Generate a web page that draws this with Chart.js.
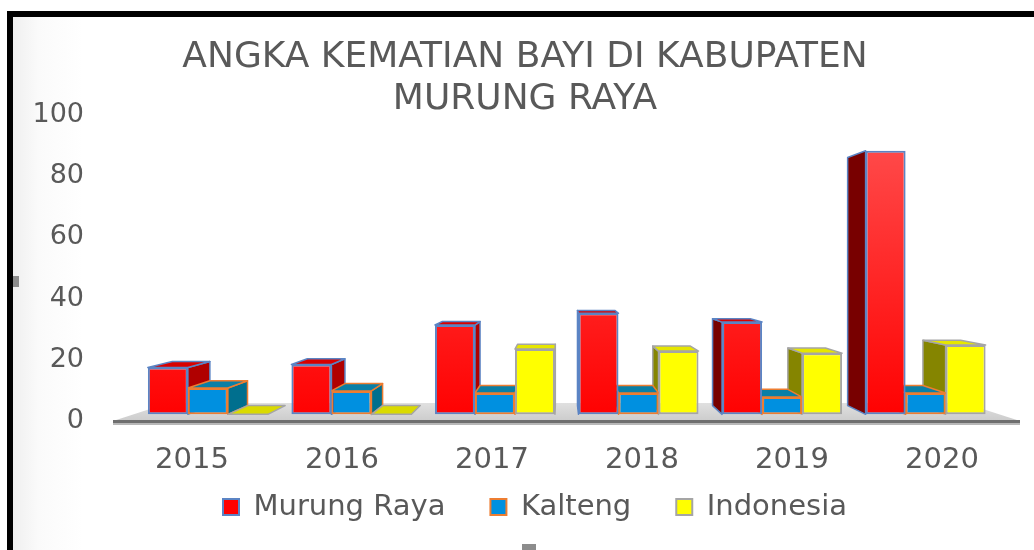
<!DOCTYPE html>
<html>
<head>
<meta charset="utf-8">
<script src="https://cdn.jsdelivr.net/npm/chart.js@4.4.1/dist/chart.umd.min.js"></script>
<style>
html,body{margin:0;padding:0;width:1034px;height:550px;overflow:hidden;background:#fff;}
#frame{position:absolute;left:7px;top:11px;width:1021px;height:539px;border-left:6px solid #000;border-top:6px solid #000;
  background:linear-gradient(90deg,#efefef 0px,#fafafa 25px,#ffffff 70px,#ffffff 100%);}
#c{position:absolute;left:0;top:0;}
.handle{position:absolute;background:#8c8c8c;}
</style>
</head>
<body>
<div id="frame"><canvas id="c" width="1021" height="533"></canvas></div>
<div class="handle" style="left:13px;top:276px;width:6px;height:11px;"></div>
<div class="handle" style="left:522px;top:544px;width:14px;height:6px;"></div>
<script>
// ---------- data ----------
const years = ['2015', '2016', '2017', '2018', '2019', '2020'];
const murungRaya = [16, 17, 30.5, 34.5, 31.5, 90];
const kalteng = [9, 8, 7.3, 7.3, 5.9, 7.3];
const indonesia = [0, 0, 22.3, 21.6, 20.9, 23.7];
const seriesNames = ['Murung Raya', 'Kalteng', 'Indonesia'];
const yTickValues = [0, 20, 40, 60, 80, 100];
const chartTitle = ['ANGKA KEMATIAN BAYI DI KABUPATEN', 'MURUNG RAYA'];

// ---------- style / 3D view ----------
const AREA = {left: 104, right: 1004, top: 98, bottom: 404}; // planned plot area (canvas px)
const VP = {x: 548, y: 249};     // vanishing point
const FRONT = 0.957;             // bar front plane relative to axis plane
const DEPTH = 0.941;             // bar back face relative to front
const FLOOR_BACK = 0.884;
const LEGEND_POS = {top: 430.5, shiftX: 10};
const STYLE3D = [
  {border: '#5B84C4', sideR: '#B00000', sideL: '#780000', top: '#D80000', plate: '#D80000'},
  {border: '#ED7D31', sideR: '#006F8E', sideL: '#006F8E', top: '#0A7FA6', plate: '#0A7FA6'},
  {border: '#A5A5A5', sideR: '#8A8A00', sideL: '#858500', top: '#E6E600', plate: '#DADA00'}
];
const FRONTS = [['#FF4A4A', '#FF0000'], ['#0090E0', '#0090E0'], ['#FFFF00', '#FFFF00']];
const TXT = '#595959';

// front-plane pixel -> axis-plane pixel
const toAxisPlane = (p, v) => v + (p - v) / FRONT;
const colW = (AREA.right - AREA.left) / years.length;
const idxAt = q => (q - AREA.left) / colW - 0.5;
const valAt = q => yTickValues[yTickValues.length - 1] * (AREA.bottom - q) / (AREA.bottom - AREA.top);
const xbMin = idxAt(toAxisPlane(AREA.left, VP.x)), xbMax = idxAt(toAxisPlane(AREA.right, VP.x));
const ybMin = valAt(toAxisPlane(AREA.bottom, VP.y)), ybMax = valAt(toAxisPlane(AREA.top, VP.y));

function frontFill(di) {
  return (c) => {
    const a = c.chart.chartArea;
    if (!a) return FRONTS[di][1];
    const g = c.chart.ctx.createLinearGradient(0, a.top + 30, 0, a.bottom);
    g.addColorStop(0, FRONTS[di][0]);
    g.addColorStop(1, FRONTS[di][1]);
    return g;
  };
}

const seriesValues = [murungRaya, kalteng, indonesia];
const datasets = seriesValues.map((vals, di) => ({
  label: seriesNames[di],
  data: vals.map((v, i) => ({x: i, y: v})),
  backgroundColor: frontFill(di),
  borderColor: STYLE3D[di].border,
  borderWidth: 2,
  borderSkipped: false,
  xAxisID: 'xb',
  yAxisID: 'yb',
  categoryPercentage: 0.836,
  barPercentage: 1.0
}));

function poly(ctx, pts, fill) {
  ctx.beginPath();
  ctx.moveTo(pts[0][0], pts[0][1]);
  for (let k = 1; k < pts.length; k++) ctx.lineTo(pts[k][0], pts[k][1]);
  ctx.closePath();
  ctx.fillStyle = fill;
  ctx.fill();
  ctx.stroke();
}

const depthPlugin = {
  id: 'depth3d',
  afterLayout(chart) {
    const lg = chart.legend;
    if (lg) {
      const h = lg.bottom - lg.top;
      lg.top = LEGEND_POS.top; lg.bottom = LEGEND_POS.top + h;
      lg.left += LEGEND_POS.shiftX; lg.right += LEGEND_POS.shiftX;
    }
  },
  beforeDatasetsDraw(chart) {
    const ctx = chart.ctx, a = chart.chartArea;
    const P = (x, y, k) => [VP.x + (x - VP.x) * k, VP.y + (y - VP.y) * k];
    ctx.save();
    // floor
    const fl = P(a.left, a.bottom, FLOOR_BACK), fr = P(a.right, a.bottom, FLOOR_BACK);
    ctx.beginPath();
    ctx.moveTo(a.left - 4, a.bottom); ctx.lineTo(a.right + 3, a.bottom);
    ctx.lineTo(fr[0], fr[1]); ctx.lineTo(fl[0], fl[1]); ctx.closePath();
    const g = ctx.createLinearGradient(0, fl[1], 0, a.bottom);
    g.addColorStop(0, '#e0e0e0'); g.addColorStop(1, '#cccccc');
    ctx.fillStyle = g; ctx.fill();
    ctx.fillStyle = '#6f6f6f';
    ctx.fillRect(a.left - 4, a.bottom - 1, a.right - a.left + 7, 3);
    ctx.fillStyle = '#b8b8b8';
    ctx.fillRect(a.left - 4, a.bottom + 2, a.right - a.left + 7, 2);
    // bar sides and tops (painter's order: farther from vanishing x first)
    const items = [];
    chart.data.datasets.forEach((ds, di) => {
      chart.getDatasetMeta(di).data.forEach(bar => {
        const p = bar.getProps(['x', 'y', 'base', 'width'], true);
        items.push({di, x: p.x, y: p.y, base: p.base, width: p.width});
      });
    });
    items.sort((p, q) => Math.abs(q.x - VP.x) - Math.abs(p.x - VP.x));
    const S = (x, y) => [VP.x + (x - VP.x) * DEPTH, VP.y + (y - VP.y) * DEPTH];
    ctx.lineWidth = 1.5;
    ctx.lineJoin = 'round';
    items.forEach(it => {
      const st = STYLE3D[it.di];
      const l = it.x - it.width / 2, r = it.x + it.width / 2;
      const t = Math.min(it.y, it.base), b = Math.max(it.y, it.base);
      ctx.strokeStyle = st.border;
      if (b - t > 0.5) {
        if (r < VP.x) poly(ctx, [[r, t], S(r, t), S(r, b), [r, b]], st.sideR);
        else if (l > VP.x) poly(ctx, [[l, t], S(l, t), S(l, b), [l, b]], st.sideL);
      }
      if (t > VP.y) poly(ctx, [[l, t], [r, t], S(r, t), S(l, t)], (b - t > 0.5) ? st.top : st.plate);
    });
    ctx.restore();
  }
};

new Chart(document.getElementById('c'), {
  type: 'bar',
  data: {labels: years, datasets: datasets},
  plugins: [depthPlugin],
  options: {
    responsive: false,
    devicePixelRatio: 1,
    animation: false,
    layout: {padding: {left: 20, right: 1021 - AREA.right, top: 0, bottom: -15}},
    plugins: {
      title: {
        display: true,
        text: chartTitle,
        color: TXT,
        font: {family: "'DejaVu Sans', sans-serif", size: 36, weight: 'normal', lineHeight: 42 / 36},
        padding: {top: 20, bottom: -6}
      },
      legend: {
        position: 'bottom',
        labels: {
          color: TXT,
          font: {family: "'DejaVu Sans', sans-serif", size: 29},
          boxWidth: 16,
          boxHeight: 16,
          padding: 45,
          generateLabels: (chart) => Chart.defaults.plugins.legend.labels.generateLabels(chart).map((it, i) => ({...it, fillStyle: FRONTS[i][1]}))
        }
      },
      tooltip: {enabled: false}
    },
    scales: {
      x: {
        type: 'category',
        position: 'bottom',
        offset: true,
        grid: {display: false, drawTicks: false},
        border: {display: false},
        ticks: {color: TXT, font: {family: "'DejaVu Sans', sans-serif", size: 29}, padding: 22, maxRotation: 0, autoSkip: false},
        afterFit: s => { s.height = 60; }
      },
      y: {
        type: 'linear',
        position: 'left',
        min: yTickValues[0],
        max: yTickValues[yTickValues.length - 1],
        afterBuildTicks: s => { s.ticks = yTickValues.map(v => ({value: v})); },
        grid: {display: false, drawTicks: false},
        border: {display: false},
        ticks: {color: TXT, font: {family: "'DejaVu Sans', sans-serif", size: 27}, padding: 33},
        afterFit: s => { s.width = AREA.left - 20; }
      },
      xb: {type: 'linear', display: false, offset: false, min: xbMin, max: xbMax},
      yb: {type: 'linear', display: false, min: ybMin, max: ybMax}
    }
  }
});
</script>
</body>
</html>
